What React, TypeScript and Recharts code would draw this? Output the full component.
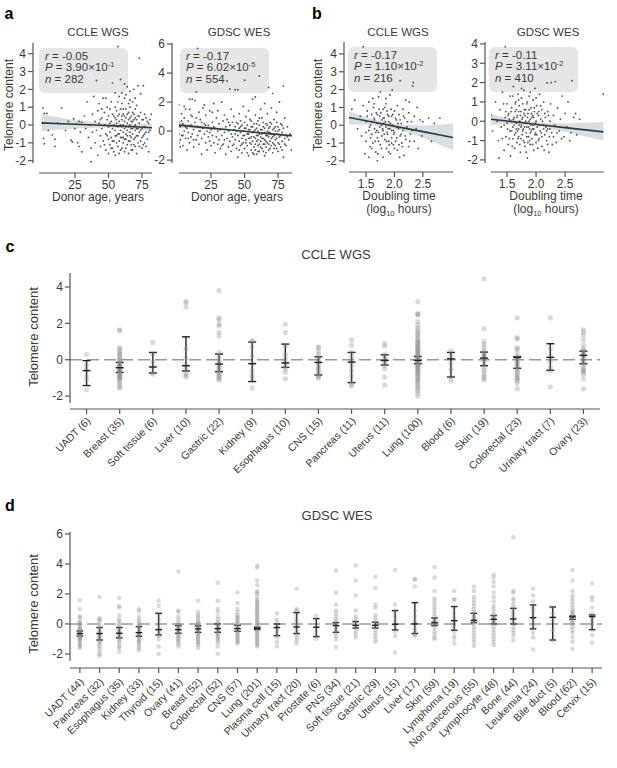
import React from 'react';
import {
  ComposedChart,
  ScatterChart,
  Scatter,
  Line,
  Area,
  XAxis,
  YAxis,
  ReferenceLine,
  ErrorBar,
} from 'recharts';

type Pt = [number, number];

const FONT = '"Liberation Sans", Arial, Helvetica, sans-serif';
const TEXT = '#3a3a3a';
const AXIS = '#555555';

// ---------- Panel a: donor age ----------
const ccleAgePts: Pt[] = [
  [1, 0.95], [2, 0.65], [1, 0.1], [1.5, -0.75], [2, -1.05], [4, 0.65], [5, -0.3], [8, -0.55], [10, -0.8], [12, 0.1],
  [15, 0.95], [18, -0.3], [20, 0.2], [22, -0.85], [23, -0.95], [24, 0.35], [25, -0.2], [26, 0.05], [27, -1.0], [28, 0.2],
  [29, -0.4], [30, 0.15], [30, -1.5], [28, -1.2], [10, -1.2],
  [32, 0.5], [33, -0.2], [34, 1.3], [35, -0.7], [36, 0.0], [37, -1.3], [38, 0.6], [38, -0.4], [39, 1.6], [40, 0.2],
  [40, -1.0], [41, 2.5], [41, -0.3], [42, 0.8], [42, -1.7], [43, 0.1], [43, 1.2], [44, -0.6], [44, -1.2], [45, 0.4],
  [45, -0.2], [46, 1.5], [46, -0.9], [47, 0.0], [47, 0.7], [48, -0.5], [48, -1.4], [49, 0.3], [49, 1.0], [50, -0.1],
  [50, -0.8], [50, 0.5], [37, -2.06],
  [51, 0.9], [51, -0.4], [51, -1.1], [52, 0.2], [52, 1.3], [52, -0.7], [53, 2.35], [53, -0.2], [53, 0.6], [54, -1.5],
  [54, 0.0], [54, -0.9], [55, 0.4], [55, -0.3], [55, 1.0], [55, -1.7], [56, 0.1], [56, -0.6], [56, 0.8], [57, 4.4],
  [57, -0.1], [57, -1.2], [57, 0.5], [58, 0.2], [58, -0.5], [58, 1.6], [58, -0.9], [59, 0.0], [59, -0.3], [59, 0.9],
  [59, -1.4], [60, 0.3], [60, -0.7], [60, -0.1], [60, 1.2], [61, 0.6], [61, -0.4], [61, -1.0], [61, 0.0], [62, 0.2],
  [62, -0.2], [62, -0.8], [62, 1.5], [63, -0.5], [63, 0.4], [63, -1.3], [63, 0.9], [64, 2.15], [64, 0.1], [64, -0.3],
  [64, -0.6], [65, 0.7], [65, -0.1], [65, -1.6], [65, 0.3], [66, -0.4], [66, 1.0], [66, -0.9], [66, 0.0], [67, 0.5],
  [67, -0.2], [67, -1.1], [67, -0.7], [68, 0.2], [68, -0.5], [68, 1.3], [68, -1.4], [69, -0.1], [69, 0.6], [69, -0.8],
  [70, 0.0], [70, -0.3], [70, -1.2], [70, 0.9], [71, 0.3], [71, -0.6], [71, -1.6], [72, 2.2], [72, -0.2], [72, 0.5],
  [72, -1.0], [73, 3.75], [73, -0.4], [73, 0.1], [74, -0.9], [74, 0.7], [75, -0.2], [75, -1.3], [76, 2.2], [76, 0.3],
  [76, -0.6], [77, -0.1], [77, -1.0], [78, 0.4], [78, -0.4], [79, -0.8], [80, 0.1], [80, -1.5], [81, -0.3], [82, 0.6],
  [59, 2.55], [62, 2.3], [66, 1.9], [69, 2.0], [74, 1.75],
  [44, 0.3], [47, -1.1], [49, -0.6], [51, 0.1], [52, -1.3], [53, -0.9], [54, 0.5], [55, -0.6], [56, -1.0], [56, 0.3],
  [57, -0.5], [58, -1.6], [58, 0.6], [59, -0.7], [60, -1.3], [60, 0.5], [61, -0.7], [61, 0.9], [62, -1.5], [62, 0.5],
  [63, -0.1], [63, -0.8], [64, -1.1], [64, 0.6], [65, -0.9], [65, 1.2], [66, -0.6], [66, 0.4], [67, 0.2], [67, -1.4],
  [68, -0.2], [68, 0.7], [69, -1.1], [69, 0.3], [70, -0.7], [70, 0.4], [71, -0.2], [71, 1.1], [72, -0.6], [73, -1.2],
  [73, 0.5], [74, -0.3], [75, 0.3], [75, -0.7], [76, -1.1], [77, 0.6], [77, -0.5], [78, -1.2], [79, 0.2], [80, -0.4],
  [81, 0.3], [57, 1.3], [60, 1.8], [63, 1.7], [66, 1.4], [70, 1.5], [55, 1.8], [48, 1.5], [45, 0.9], [50, -1.6], [53, -1.3],
];
const ccleAgeFitX = [0, 20, 40, 55, 70, 82.5];
const ccleAgeFitY = [0.12, 0.06, 0.0, -0.05, -0.1, -0.15];
const ccleAgeLo = [-0.35, -0.22, -0.15, -0.16, -0.24, -0.33];
const ccleAgeHi = [0.6, 0.34, 0.16, 0.07, 0.05, 0.07];

const gdscAgePts: Pt[] = [
  [1, 1.8], [1, 0.6], [1, -0.2], [2, 0.3], [2, -0.6], [3, 1.2], [3, -0.3], [4, 0.5], [4, -1.0], [5, 0.0],
  [5, 0.9], [6, -0.5], [6, 1.5], [7, 0.2], [7, -1.3], [8, 0.7], [8, -0.1], [9, -0.8], [9, 2.2], [10, 0.4],
  [10, -0.4], [11, 1.0], [11, -0.2], [12, 0.1], [12, -1.1], [13, 2.1], [13, 0.6], [14, -0.6], [14, 2.7], [15, 5.7],
  [15, 0.3], [15, -0.3], [16, 1.3], [16, -0.9], [17, 0.0], [17, 0.8], [18, -0.5], [18, -1.6], [19, 0.2], [19, 1.6],
  [20, -0.2], [20, 0.5], [21, -0.8], [21, 1.1], [22, 0.0], [22, -1.3], [23, 0.4], [23, -0.4], [24, 1.4], [24, -0.7],
  [25, 0.1], [25, -1.0],
  [26, 0.6], [26, -0.3], [27, 1.9], [27, -0.8], [28, 0.2], [28, -1.5], [29, 0.9], [29, -0.4], [30, 0.0], [30, 1.4],
  [31, -0.6], [31, 0.5], [32, -1.2], [32, 0.1], [33, 2.0], [33, -0.3], [34, 0.7], [34, -0.9], [35, -0.1], [35, 1.1],
  [36, -1.6], [36, 0.3], [37, 3.45], [37, -0.5], [37, 0.8], [38, 0.0], [38, -1.1], [39, 2.9], [39, 0.4], [39, -0.7],
  [40, 1.5], [40, -0.2], [40, -1.4], [41, 0.6], [41, -0.4], [42, 0.1], [42, -0.9], [42, 1.0], [43, 2.85], [43, -0.6],
  [43, 0.3], [44, -1.2], [44, 0.0], [45, 2.85], [45, 0.5], [45, -0.3], [45, -1.8],
  [46, 1.2], [46, -0.7], [46, 0.2], [47, -0.1], [47, -1.0], [47, 0.7], [48, 0.4], [48, -0.5], [48, -1.5], [49, 1.7],
  [49, 0.0], [49, -0.8], [50, 3.5], [50, -0.3], [50, 0.6], [50, -1.2], [51, 0.2], [51, -0.6], [51, 1.0], [52, -0.2],
  [52, -1.0], [52, 0.4], [53, 1.4], [53, -0.5], [53, -1.7], [54, 0.1], [54, -0.8], [54, 0.8], [55, -0.4], [55, -1.3],
  [55, 0.3], [56, 2.2], [56, -0.1], [56, -0.7], [57, 0.5], [57, -1.1], [57, 0.0], [58, 2.35], [58, -0.5], [58, -0.9],
  [58, 1.1], [59, 0.2], [59, -0.3], [59, -1.6], [60, 0.7], [60, -0.6], [60, -1.0], [60, 0.0], [61, 3.8], [61, -0.2],
  [61, -1.4], [61, 0.4], [62, 1.5], [62, -0.7], [62, -0.4], [63, 0.1], [63, -1.2], [63, 0.9], [64, -0.5], [64, -0.9],
  [64, 0.3], [65, 1.9], [65, -0.1], [65, -1.7], [65, -0.6], [66, 0.5], [66, -0.3], [66, -1.1], [67, 0.0], [67, -0.8],
  [67, 1.2], [68, 3.0], [68, -0.4], [68, -1.3], [68, 0.2], [69, 0.6], [69, -0.7], [69, -0.1], [70, 1.6], [70, -1.0],
  [70, -0.5], [71, 2.6], [71, 0.1], [71, -1.5], [72, -0.3], [72, 0.8], [72, -0.9], [73, 0.3], [73, -0.6], [74, 1.3],
  [74, -1.2], [74, -0.2], [75, 0.0], [75, -0.8], [76, 2.0], [76, -0.4], [77, 0.5], [77, -1.1], [78, -0.1], [78, -0.7],
  [79, 3.1], [79, 0.2], [79, -1.8], [80, -0.5], [80, 0.9], [81, -0.3], [81, -1.0], [82, 0.3], [83, -0.6], [84, -0.2],
  [85, -1.3],
  [41, -1.0], [43, -0.2], [44, 0.6], [46, -1.3], [47, 0.3], [48, -0.9], [49, -0.3], [50, 0.2], [51, -0.8], [52, -1.5],
  [53, 0.1], [53, -0.2], [54, -0.5], [55, -0.9], [55, 0.7], [56, -1.5], [56, 0.3], [57, -0.4], [57, -1.6], [58, 0.1],
  [58, -1.3], [59, -0.7], [59, 0.5], [60, -0.3], [60, -1.4], [61, -0.9], [61, 0.9], [62, -1.1], [62, 0.1], [63, -0.5],
  [63, -0.2], [64, -1.4], [64, 0.6], [65, -0.9], [65, 0.2], [66, -0.7], [66, -1.5], [67, -0.3], [67, 0.4], [68, -0.9],
  [68, -0.1], [69, -1.2], [69, 0.3], [70, -0.2], [70, 0.5], [71, -0.8], [71, -0.4], [72, -1.2], [72, 0.2], [73, -1.0],
  [73, 0.0], [74, -0.5], [74, 0.6], [75, -1.4], [75, 0.3], [76, -0.9], [76, 0.1], [77, -0.3], [78, -1.3], [78, 0.4],
  [80, -0.9], [82, -0.4], [35, -0.6], [38, 0.6], [33, -1.0], [30, -0.9], [27, 0.3], [24, -0.1], [21, 0.4], [18, 0.6],
  [16, 0.0], [14, 0.9], [12, -0.6], [10, 1.1], [8, -0.5], [6, 0.3], [4, -0.3], [3, 0.7], [2, -1.1], [1, -0.8],
  [11, 2.2], [9, 1.5], [20, 1.8], [5, 1.7], [26, 1.3],
];
const gdscAgeFitX = [1.1, 20, 40, 55, 70, 85.4];
const gdscAgeFitY = [0.41, 0.24, 0.07, -0.06, -0.19, -0.32];
const gdscAgeLo = [0.21, 0.12, 0.0, -0.12, -0.27, -0.45];
const gdscAgeHi = [0.61, 0.36, 0.14, 0.0, -0.11, -0.19];

// ---------- Panel b: doubling time ----------
const ccleDblPts: Pt[] = [
  [1.25, 0.9], [1.3, 1.4], [1.35, -0.2], [1.4, 0.5], [1.42, -0.6], [1.45, 4.4], [1.45, 1.1], [1.48, -1.6], [1.5, 0.2], [1.5, -0.9],
  [1.52, 0.8], [1.55, -0.3], [1.55, 1.3], [1.57, -1.2], [1.58, 0.0], [1.6, 0.6], [1.6, -0.5], [1.62, -1.0], [1.63, 1.0], [1.65, 0.3],
  [1.65, -0.2], [1.67, -1.5], [1.68, 0.7], [1.7, -0.7], [1.7, 0.1], [1.72, 1.6], [1.72, -0.4], [1.74, 0.5], [1.75, 1.87], [1.75, -1.1],
  [1.77, 0.0], [1.78, -0.6], [1.8, 0.9], [1.8, -0.3], [1.8, -1.8], [1.82, 0.4], [1.83, -0.8], [1.85, 1.2], [1.85, -0.1], [1.86, -1.3],
  [1.88, 0.6], [1.88, -0.5], [1.9, 0.2], [1.9, -0.9], [1.92, 1.7], [1.92, -0.2], [1.93, -1.6], [1.95, 0.5], [1.95, -0.7], [1.96, 1.98],
  [1.97, 0.0], [1.98, -1.1], [2.0, 0.8], [2.0, -0.4], [2.02, -0.9], [2.03, 0.3], [2.05, -1.4], [2.05, 1.1], [2.07, -0.2], [2.08, 0.6],
  [2.1, 2.5], [2.1, -0.6], [2.12, 0.1], [2.13, -1.0], [2.15, 0.9], [2.15, -0.3], [2.17, -1.7], [2.18, 0.4], [2.2, -0.8], [2.2, 1.4],
  [2.22, -0.1], [2.25, 0.7], [2.25, -1.2], [2.28, -0.5], [2.3, 0.2], [2.32, 2.2], [2.33, 2.4], [2.35, -0.9], [2.35, 0.5], [2.38, -0.2],
  [2.4, 1.0], [2.42, -1.3], [2.45, 0.3], [2.48, -0.6], [2.5, 0.2], [2.55, -0.4], [2.6, 0.4], [2.65, -0.9], [2.7, 0.1], [2.8, 0.4],
  [1.55, -1.8], [1.62, 1.5], [1.7, -2.0], [1.78, 0.3], [1.83, 1.0], [1.87, -0.4], [1.9, -1.5], [1.94, 0.9], [1.99, -0.5], [2.04, -0.1],
  [2.09, -1.8], [1.66, -0.9], [1.73, 0.9], [1.6, 0.2], [1.69, -0.3], [1.81, 0.1], [1.95, -0.3], [1.5, -0.4], [2.26, 1.3],
  [1.58, -0.7], [1.6, -1.3], [1.64, 0.4], [1.67, -0.4], [1.7, 0.6], [1.72, -0.9], [1.74, -0.1], [1.76, 0.7], [1.77, -1.3], [1.79, -0.2],
  [1.8, 0.4], [1.82, -0.5], [1.84, 0.2], [1.86, -0.9], [1.87, 0.8], [1.89, -0.2], [1.9, 0.5], [1.91, -1.1], [1.93, 0.1], [1.95, -1.0],
  [1.97, 0.6], [1.98, -0.3], [2.0, -1.3], [2.02, 0.4], [2.04, -0.7], [2.06, 0.1], [2.08, -1.1], [2.1, 0.3], [2.12, -0.5], [2.14, -1.2],
  [2.16, 0.5], [2.19, -0.6], [2.23, 0.2], [2.27, -0.9], [2.31, -0.3], [1.52, 0.5], [1.56, -0.1], [1.64, 1.2], [1.71, -1.6], [1.85, 1.5],
];
const ccleDblFitX = [1.2, 1.5, 1.8, 2.1, 2.5, 3.03];
const ccleDblFitY = [0.43, 0.25, 0.07, -0.12, -0.36, -0.69];
const ccleDblLo = [0.02, 0.04, -0.06, -0.28, -0.7, -1.4];
const ccleDblHi = [0.78, 0.45, 0.2, 0.04, -0.02, 0.08];

const gdscDblPts: Pt[] = [
  [1.22, 0.3], [1.25, -0.5], [1.3, 1.0], [1.33, 0.0], [1.35, -1.0], [1.38, 0.6], [1.4, -0.3], [1.42, 1.5], [1.45, -1.5], [1.47, 3.85],
  [1.47, 0.2], [1.48, -0.8], [1.5, 0.9], [1.5, -0.1], [1.52, -1.2], [1.53, 0.4], [1.55, -0.5], [1.55, 1.3], [1.56, -1.8], [1.57, 0.0],
  [1.58, 0.7], [1.6, -0.3], [1.6, -0.9], [1.61, 1.8], [1.62, 0.2], [1.63, -1.4], [1.64, 0.5], [1.65, -0.6], [1.65, 1.0], [1.66, -0.1],
  [1.67, -1.1], [1.68, 0.3], [1.69, 1.4], [1.7, -0.4], [1.7, -0.8], [1.71, 0.8], [1.72, 0.0], [1.73, -1.6], [1.74, 0.5], [1.75, -0.2],
  [1.75, 1.2], [1.76, -0.7], [1.77, 0.2], [1.78, -1.0], [1.79, 1.6], [1.8, -0.3], [1.8, 0.6], [1.81, -1.3], [1.82, 0.0], [1.83, -0.6],
  [1.84, 0.9], [1.85, -0.1], [1.85, -1.9], [1.86, 0.4], [1.87, -0.8], [1.88, 1.3], [1.89, -0.4], [1.9, 0.1], [1.9, -1.2], [1.91, 0.7],
  [1.92, -0.5], [1.93, -0.9], [1.94, 0.3], [1.95, 1.1], [1.95, -0.2], [1.96, -1.5], [1.97, 0.5], [1.98, 1.7], [1.98, -0.7], [2.0, 0.0],
  [2.0, -1.1], [2.01, 0.8], [2.02, -0.3], [2.04, 0.3], [2.05, -0.9], [2.06, 1.4], [2.07, -0.5], [2.08, 0.1], [2.1, -1.3], [2.1, 0.6],
  [2.12, -0.2], [2.13, 1.0], [2.15, -0.7], [2.16, 0.2], [2.18, -1.0], [2.19, 1.98], [2.2, -0.4], [2.2, 0.5], [2.22, -1.6], [2.24, 0.0],
  [2.25, 0.9], [2.26, 2.0], [2.27, -0.6], [2.3, 0.3], [2.32, -0.2], [2.33, 2.05], [2.35, -1.1], [2.37, 0.7], [2.4, -0.5], [2.42, 0.1],
  [2.45, 1.3], [2.48, -0.8], [2.5, 0.4], [2.53, -0.3], [2.55, 1.0], [2.6, -0.6], [2.62, 2.1], [2.65, 0.2], [2.68, 0.4], [2.7, -0.7],
  [2.75, 0.1], [3.16, 1.4], [1.36, -1.9], [1.44, 0.9], [1.51, -0.4], [1.54, 0.1], [1.59, -1.3], [1.62, -0.2], [1.66, 0.6], [1.68, -0.5],
  [1.72, -1.2], [1.74, -0.3], [1.77, 0.9], [1.78, -0.4], [1.81, 0.3], [1.83, -1.6], [1.84, -0.3], [1.86, -1.1], [1.88, 0.0], [1.9, -0.6],
  [1.92, 0.4], [1.94, -0.4], [1.96, 0.2], [1.99, -0.6], [2.03, -1.4], [2.05, 0.5], [2.09, -0.6], [2.11, 0.0], [2.14, -1.5], [2.17, -0.3],
  [2.21, 0.3], [2.23, -0.8], [2.28, -1.2], [2.36, -0.6], [2.44, -0.9], [2.58, -1.0],
  [1.52, 0.3], [1.54, -0.9], [1.57, 0.5], [1.58, -0.5], [1.61, 0.1], [1.63, -0.7], [1.64, 0.9], [1.66, -0.4], [1.67, 0.2], [1.69, -0.9],
  [1.7, 0.5], [1.71, -0.2], [1.73, 0.3], [1.74, -0.9], [1.76, 0.1], [1.77, -0.5], [1.79, 0.4], [1.8, -1.1], [1.81, -0.1], [1.82, 0.6],
  [1.84, -0.8], [1.85, 0.2], [1.87, -0.3], [1.88, 0.6], [1.89, -1.0], [1.91, -0.2], [1.93, 0.2], [1.94, -1.2], [1.96, -0.4], [1.97, 0.7],
  [1.99, -0.1], [2.01, -0.7], [2.02, 0.4], [2.04, -1.0], [2.06, -0.2], [2.08, 0.8], [2.1, -0.8], [2.13, -0.4], [2.15, 0.4], [2.18, -0.5],
  [2.2, -1.2], [2.24, -0.4], [2.3, -0.8], [1.45, -0.2], [1.48, 0.5], [1.42, -0.9], [1.6, 1.3], [1.7, 1.1], [1.9, 1.5], [2.0, 1.2],
  [1.75, 1.7], [1.85, 1.0],
];
const gdscDblFitX = [1.224, 1.5, 1.8, 2.1, 2.5, 3.16];
const gdscDblFitY = [0.1, 0.01, -0.09, -0.19, -0.33, -0.55];
const gdscDblLo = [-0.2, -0.14, -0.18, -0.31, -0.55, -1.0];
const gdscDblHi = [0.4, 0.16, 0.0, -0.07, -0.11, -0.04];

// ---------- Panel c: CCLE WGS by tissue ----------
const ccleCats = ['UADT', 'Breast', 'Soft tissue', 'Liver', 'Gastric', 'Kidney', 'Esophagus', 'CNS', 'Pancreas', 'Uterus', 'Lung', 'Blood', 'Skin', 'Colorectal', 'Urinary tract', 'Ovary'];
const ccleN = [6, 35, 6, 10, 22, 9, 10, 15, 11, 11, 100, 6, 19, 23, 7, 23];
const ccleVals: number[][] = [
  [0.3, -0.3, -0.55, -0.9, -1.1, -1.65],
  [1.65, 1.6, 0.65, 0.6, 0.45, 0.35, 0.3, 0.18, 0.1, 0.02, -0.05, -0.12, -0.2, -0.22, -0.3, -0.35, -0.4, -0.42, -0.5, -0.55, -0.6, -0.62, -0.7, -0.75, -0.8, -0.85, -0.9, -0.95, -1.0, -1.05, -1.1, -1.25, -1.35, -1.5, -1.55],
  [0.95, 0.3, -0.1, -0.4, -0.7, -0.8],
  [3.2, 3.15, 2.9, 0.6, 0.1, -0.3, -0.5, -0.75, -0.85, -0.95],
  [3.8, 2.3, 2.2, 1.95, 1.85, 1.5, 1.3, 0.4, 0.25, 0.05, -0.1, -0.2, -0.35, -0.45, -0.55, -0.65, -0.7, -0.8, -0.9, -0.95, -1.05, -1.1],
  [1.05, 1.0, 0.7, 0.2, -0.2, -0.6, -0.85, -1.0, -1.55],
  [1.95, 1.5, 0.75, 0.3, 0.05, -0.15, -0.35, -0.5, -0.7, -1.05],
  [0.7, 0.65, 0.45, 0.3, 0.15, 0.0, -0.1, -0.25, -0.4, -0.5, -0.6, -0.75, -0.85, -0.95, -1.0],
  [1.1, 0.8, 0.4, 0.15, -0.1, -0.3, -0.6, -0.9, -1.2, -1.35, -1.45],
  [0.9, 0.75, 0.3, 0.15, 0.05, -0.05, -0.15, -0.3, -0.5, -0.95, -1.4],
  [3.2, 2.55, 2.5, 2.45, 2.1, 1.9, 1.75, 1.6, 1.5, 1.4, 1.3, 1.2, 1.1, 1.0, 0.95, 0.9, 0.8, 0.75, 0.7, 0.6, 0.55, 0.5, 0.45, 0.4, 0.3, 0.25, 0.2, 0.15, 0.1, 0.05, 0.0, -0.05, -0.1, -0.15, -0.2, -0.25, -0.3, -0.35, -0.4, -0.45, -0.5, -0.55, -0.6, -0.7, -0.75, -0.8, -0.9, -1.0, -1.05, -1.1, -1.2, -1.3, -1.4, -1.5, -1.6, -1.7, -1.85, -2.0],
  [0.5, 0.25, -0.2, -0.55, -0.95, -1.15],
  [4.45, 1.7, 1.0, 0.85, 0.7, 0.5, 0.4, 0.3, 0.2, 0.1, 0.0, -0.1, -0.3, -0.45, -0.6, -0.75, -0.9, -1.0, -1.1],
  [2.3, 1.2, 1.15, 0.65, 0.6, 0.4, 0.2, 0.1, 0.0, -0.1, -0.2, -0.3, -0.4, -0.5, -0.6, -0.7, -0.8, -0.9, -1.0, -1.05, -1.15, -1.3, -1.6],
  [2.3, 0.6, 0.2, -0.1, -0.4, -0.6, -1.5],
  [1.65, 1.5, 1.35, 1.1, 0.8, 0.6, 0.5, 0.45, 0.35, 0.3, 0.2, 0.1, 0.0, -0.1, -0.2, -0.3, -0.45, -0.55, -0.6, -0.7, -0.8, -1.05, -1.6],
];
const ccleMean = [-0.6, -0.44, -0.4, -0.33, -0.24, -0.22, -0.18, -0.15, -0.13, -0.04, -0.04, 0.05, 0.09, 0.12, 0.13, 0.24];
const ccleLo = [-1.42, -0.7, -0.73, -0.62, -0.66, -1.2, -0.42, -0.84, -1.26, -0.29, -0.22, -0.95, -0.33, -0.47, -0.58, -0.22];
const ccleHi = [-0.05, -0.15, 0.4, 1.26, 0.31, 0.97, 0.86, 0.16, 0.4, 0.27, 0.18, 0.4, 0.42, 0.17, 0.88, 0.47];

// ---------- Panel d: GDSC WES by tissue ----------
const gdscCats = ['UADT', 'Pancreas', 'Esophagus', 'Kidney', 'Thyroid', 'Ovary', 'Breast', 'Colorectal', 'CNS', 'Lung', 'Plasma cell', 'Urinary tract', 'Prostate', 'PNS', 'Soft tissue', 'Gastric', 'Uterus', 'Liver', 'Skin', 'Lymphoma', 'Non cancerous', 'Lymphocyte', 'Bone', 'Leukemia', 'Bile duct', 'Blood', 'Cervix'];
const gdscN = [44, 32, 35, 33, 15, 41, 52, 52, 57, 201, 15, 20, 6, 34, 21, 29, 15, 17, 59, 19, 55, 48, 44, 24, 5, 62, 15];
const gdscVals: number[][] = [
  [1.6, 1.0, 0.5, 0.45, 0.2, 0.1, 0.0, -0.1, -0.2, -0.3, -0.35, -0.4, -0.5, -0.55, -0.6, -0.65, -0.7, -0.75, -0.8, -0.85, -0.9, -0.95, -1.0, -1.1, -1.2, -1.3, -1.4, -1.5, -1.6],
  [1.8, 0.4, 0.3, 0.2, 0.0, -0.2, -0.3, -0.45, -0.6, -0.7, -0.8, -0.9, -1.0, -1.1, -1.2, -1.3, -1.45, -1.6, -1.8, -2.0, -2.1],
  [1.75, 1.2, 1.1, 0.6, 0.35, 0.2, 0.05, -0.1, -0.25, -0.4, -0.5, -0.6, -0.7, -0.8, -0.9, -1.0, -1.15, -1.3, -1.5, -1.6, -1.85],
  [1.0, 0.85, 0.5, 0.3, 0.15, 0.0, -0.1, -0.25, -0.4, -0.5, -0.6, -0.7, -0.8, -0.9, -1.0, -1.1, -1.2, -1.3, -1.45, -1.6, -1.75],
  [1.55, 1.2, 0.6, 0.3, 0.0, -0.3, -0.5, -0.7, -0.8, -1.0, -1.5, -2.0],
  [3.5, 0.9, 0.8, 0.5, 0.3, 0.1, 0.0, -0.1, -0.2, -0.3, -0.4, -0.5, -0.6, -0.7, -0.8, -0.9, -1.0, -1.1, -1.2, -1.35, -1.5],
  [1.55, 0.8, 0.6, 0.5, 0.35, 0.2, 0.1, 0.0, -0.1, -0.2, -0.3, -0.4, -0.5, -0.6, -0.7, -0.8, -0.9, -1.0, -1.1, -1.2, -1.3, -1.4, -1.6],
  [2.75, 1.55, 1.0, 0.8, 0.5, 0.3, 0.15, 0.0, -0.1, -0.2, -0.3, -0.4, -0.5, -0.6, -0.7, -0.8, -0.9, -1.0, -1.1, -1.25, -1.5, -2.0],
  [2.1, 1.4, 1.0, 0.8, 0.6, 0.5, 0.4, 0.3, 0.2, 0.1, 0.0, -0.1, -0.2, -0.3, -0.4, -0.5, -0.6, -0.7, -0.8, -0.9, -1.0, -1.1, -1.2, -1.3],
  [3.9, 3.75, 2.9, 2.6, 2.2, 2.1, 2.0, 1.8, 1.6, 1.5, 1.4, 1.3, 1.2, 1.1, 1.0, 0.9, 0.8, 0.7, 0.6, 0.5, 0.4, 0.3, 0.2, 0.1, 0.0, -0.1, -0.2, -0.3, -0.4, -0.5, -0.6, -0.7, -0.8, -0.9, -1.0, -1.1, -1.2, -1.3, -1.4, -1.5],
  [0.7, 0.3, 0.1, -0.1, -0.3, -0.5, -0.7, -0.9, -1.2, -1.5],
  [2.35, 1.0, 0.9, 0.6, 0.3, 0.1, -0.1, -0.3, -0.5, -0.7, -0.9, -1.1, -1.3],
  [0.55, 0.3, -0.2, -0.5, -0.8, -1.0],
  [3.56, 2.1, 1.3, 0.9, 0.7, 0.5, 0.3, 0.15, 0.0, -0.15, -0.3, -0.45, -0.6, -0.8, -1.0, -1.56],
  [3.9, 2.9, 1.9, 0.9, 0.5, 0.3, 0.1, -0.1, -0.3, -0.5, -0.7, -0.9],
  [3.15, 2.4, 1.3, 1.1, 0.6, 0.4, 0.2, 0.0, -0.2, -0.4, -0.6, -0.8, -1.0, -1.2],
  [3.6, 1.3, 0.9, 0.5, 0.2, 0.0, -0.2, -0.5, -0.8, -1.9],
  [3.0, 2.95, 2.5, 0.9, 0.5, 0.2, 0.0, -0.3, -0.5, -0.7, -0.8],
  [3.8, 3.1, 2.2, 1.7, 1.5, 1.3, 1.1, 0.9, 0.7, 0.5, 0.3, 0.2, 0.1, 0.0, -0.1, -0.3, -0.5, -0.7, -0.9, -1.0],
  [2.2, 1.65, 1.6, 1.0, 0.7, 0.4, 0.2, 0.0, -0.2, -0.5, -0.8, -1.0, -1.3],
  [2.5, 2.2, 1.8, 1.6, 1.4, 1.2, 1.0, 0.8, 0.6, 0.5, 0.4, 0.3, 0.2, 0.1, 0.0, -0.2, -0.4, -0.6, -0.8, -1.0, -1.2, -1.45],
  [3.3, 3.1, 2.8, 2.5, 2.1, 1.8, 1.5, 1.2, 1.0, 0.8, 0.6, 0.5, 0.4, 0.3, 0.2, 0.1, 0.0, -0.2, -0.4, -0.6, -0.8, -1.0, -1.2, -1.4],
  [5.8, 2.2, 2.1, 1.7, 1.55, 1.3, 1.1, 0.9, 0.7, 0.5, 0.3, 0.1, 0.0, -0.2, -0.4, -0.6, -0.8, -1.1],
  [2.35, 1.9, 1.5, 1.2, 1.0, 0.8, 0.5, 0.3, 0.0, -0.3, -0.6, -0.9, -1.7],
  [1.1, 0.7, 0.3, -0.4, -1.1],
  [3.6, 2.9, 2.2, 1.9, 1.7, 1.5, 1.3, 1.1, 0.9, 0.8, 0.7, 0.6, 0.5, 0.4, 0.3, 0.2, 0.1, 0.0, -0.2, -0.4, -0.6, -0.9, -1.2, -1.65],
  [2.7, 1.8, 1.6, 1.1, 0.7, 0.5, 0.3, 0.1, -0.1, -0.4, -0.75, -1.25],
];
const gdscMean = [-0.64, -0.64, -0.62, -0.58, -0.38, -0.38, -0.33, -0.31, -0.31, -0.29, -0.24, -0.2, -0.22, -0.11, -0.09, -0.09, -0.02, 0.0, 0.09, 0.22, 0.24, 0.31, 0.33, 0.42, 0.44, 0.47, 0.49];
const gdscLo = [-0.8, -1.07, -0.93, -0.82, -0.73, -0.62, -0.56, -0.56, -0.49, -0.38, -0.78, -0.64, -0.84, -0.56, -0.27, -0.27, -0.4, -0.64, -0.11, -0.42, 0.09, 0.0, 0.0, -0.33, -1.07, 0.31, -0.38];
const gdscHi = [-0.47, -0.24, -0.24, -0.18, 0.71, -0.11, -0.13, 0.0, -0.09, -0.22, 0.0, 0.76, 0.36, 0.09, 0.16, 0.11, 0.89, 1.42, 0.4, 1.16, 0.71, 0.56, 1.04, 1.27, 1.13, 0.53, 0.6];

// ---------- helpers ----------
const SmallDot = (p: any) => <circle cx={p.cx} cy={p.cy} r={0.95} fill="#3a3a3a" fillOpacity={0.85} />;

type Frame = {
  chartLeft: number; chartTop: number; w: number; h: number;
  spineX: number; plotRight: number; plotTop: number; axisY: number;
  padL: number; padB: number; yW: number; xH: number;
};

function frameMargin(f: Frame) {
  return {
    top: f.plotTop - f.chartTop,
    right: f.chartLeft + f.w - f.plotRight,
    bottom: f.chartTop + f.h - f.axisY - f.xH,
    left: f.spineX - f.chartLeft - f.yW,
  };
}

function ScatterPanel(props: {
  pts: Pt[]; fx: number[]; fy: number[]; lo: number[]; hi: number[];
  xDomain: [number, number]; yDomain: [number, number]; xTicks: number[]; yTicks: number[];
  xDigits: number; f: Frame;
}) {
  const { pts, fx, fy, lo, hi, xDomain, yDomain, xTicks, yTicks, xDigits, f } = props;
  const points = pts.map(([x, y]) => ({ x, y }));
  const fit = fx.map((x, i) => ({ x, fit: fy[i], band: [lo[i], hi[i]] }));
  const ySpine = f.axisY - f.padB - f.plotTop;
  return (
    <div style={{ position: 'absolute', left: f.chartLeft, top: f.chartTop }}>
      <ComposedChart width={f.w} height={f.h} margin={frameMargin(f)}>
        <XAxis
          type="number" dataKey="x" domain={xDomain} ticks={xTicks} interval={0} allowDataOverflow
          padding={{ left: f.padL, right: 0 }} height={f.xH} tickSize={5}
          tickFormatter={(v: number) => v.toFixed(xDigits)}
          axisLine={{ stroke: AXIS, strokeWidth: 1.2, strokeDasharray: `0 ${f.padL} 2000` }}
          tickLine={{ stroke: AXIS, strokeWidth: 1.2 }}
          tick={{ fontSize: 12, fill: TEXT }}
        />
        <YAxis
          type="number" dataKey="y" domain={yDomain} ticks={yTicks} interval={0} allowDataOverflow
          padding={{ top: 0, bottom: f.padB }} width={f.yW} tickSize={5}
          axisLine={{ stroke: AXIS, strokeWidth: 1.2, strokeDasharray: `${ySpine} 2000` }}
          tickLine={{ stroke: AXIS, strokeWidth: 1.2 }}
          tick={{ fontSize: 12, fill: TEXT }}
        />
        <Area data={fit} dataKey="band" type="linear" stroke="none" fill="#c5cdd2" fillOpacity={0.65} isAnimationActive={false} />
        <Scatter data={points} dataKey="y" shape={SmallDot} isAnimationActive={false} />
        <Line data={fit} dataKey="fit" type="linear" stroke="#2c3a42" strokeWidth={1.6} dot={false} activeDot={false} isAnimationActive={false} />
      </ComposedChart>
    </div>
  );
}

function StripPanel(props: {
  cats: string[]; counts: number[]; vals: number[][]; mean: number[]; lo: number[]; hi: number[];
  yDomain: [number, number]; yTicks: number[]; f: Frame; dotR: number; cap: number; labelDy: number;
}) {
  const { cats, counts, vals, mean, lo, hi, yDomain, yTicks, f, dotR, cap, labelDy } = props;
  const labels = cats.map((c, i) => `${c} (${counts[i]})`);
  const idx = cats.map((_, i) => i);
  const points = vals.flatMap((arr, i) => arr.map((v) => ({ x: i, y: v })));
  const means = mean.map((m, i) => ({ x: i, y: m, err: [m - lo[i], hi[i] - m] }));
  const ySpine = f.axisY - f.padB - f.plotTop;
  const GrayDot = (p: any) => <circle cx={p.cx} cy={p.cy} r={dotR} fill="#8c8c8c" fillOpacity={0.32} />;
  const MeanTick = (p: any) => (
    <line x1={p.cx - cap} x2={p.cx + cap} y1={p.cy} y2={p.cy} stroke="#222" strokeWidth={1.4} />
  );
  const CatTick = (p: any) => (
    <g transform={`translate(${p.x + 2},${p.y + labelDy})`}>
      <text x={0} y={0} dy="0.35em" textAnchor="end" transform="rotate(-45)" fontSize={10.5} fill={TEXT} stroke="none">
        {labels[p.payload.value]}
      </text>
    </g>
  );
  return (
    <div style={{ position: 'absolute', left: f.chartLeft, top: f.chartTop }}>
      <ScatterChart width={f.w} height={f.h} margin={frameMargin(f)}>
        <XAxis
          type="number" dataKey="x" domain={[-0.5, cats.length - 0.5]} ticks={idx} interval={0} allowDataOverflow
          height={f.xH} tickSize={5}
          axisLine={{ stroke: AXIS, strokeWidth: 1.2 }}
          tickLine={{ stroke: AXIS, strokeWidth: 1.2 }}
          tick={CatTick}
        />
        <YAxis
          type="number" dataKey="y" domain={yDomain} ticks={yTicks} interval={0} allowDataOverflow
          padding={{ top: 0, bottom: f.padB }} width={f.yW} tickSize={5}
          axisLine={{ stroke: AXIS, strokeWidth: 1.2, strokeDasharray: `${ySpine} 2000` }}
          tickLine={{ stroke: AXIS, strokeWidth: 1.2 }}
          tick={{ fontSize: 12, fill: TEXT }}
        />
        <ReferenceLine y={0} stroke="#9a9a9a" strokeWidth={1.6} strokeDasharray="12 5" />
        <Scatter data={points} dataKey="y" shape={GrayDot} isAnimationActive={false} />
        <Scatter data={means} dataKey="y" shape={MeanTick} isAnimationActive={false}>
          <ErrorBar dataKey="err" direction="y" width={cap} stroke="#222" strokeWidth={1.4} isAnimationActive={false} />
        </Scatter>
      </ScatterChart>
    </div>
  );
}

function Txt(props: { x: number; y: number; size: number; bold?: boolean; rotate?: boolean; children: React.ReactNode }) {
  const { x, y, size, bold, rotate, children } = props;
  return (
    <div
      style={{
        position: 'absolute', left: x, top: y, fontSize: size, fontWeight: bold ? 700 : 400,
        color: bold ? '#000' : TEXT, whiteSpace: 'nowrap', lineHeight: 1,
        transform: `translate(-50%, -50%)${rotate ? ' rotate(-90deg)' : ''}`,
      }}
    >
      {children}
    </div>
  );
}

function TwoLine(props: { x: number; y: number }) {
  return (
    <div
      style={{
        position: 'absolute', left: props.x, top: props.y, fontSize: 12, color: TEXT, whiteSpace: 'nowrap',
        lineHeight: '13px', textAlign: 'center', transform: 'translateX(-50%)',
      }}
    >
      <div>Doubling time</div>
      <div>
        (log<span style={{ fontSize: 7.5, lineHeight: 0, position: 'relative', top: 3 }}>10</span> hours)
      </div>
    </div>
  );
}

function StatBox(props: { left: number; top: number; r: string; p: string; exp: string; n: number }) {
  const { left, top, r, p, exp, n } = props;
  return (
    <div
      style={{
        position: 'absolute', left, top, width: 89, height: 45, background: '#e6e6e6', borderRadius: 6,
        fontSize: 11.5, lineHeight: '11.3px', color: TEXT, padding: '3px 0 0 6px', boxSizing: 'border-box', whiteSpace: 'nowrap',
      }}
    >
      <div><i>r</i> = {r}</div>
      <div>
        <i>P</i> = {p}×10<span style={{ fontSize: 7.5, lineHeight: 0, position: 'relative', top: -4 }}>{exp}</span>
      </div>
      <div><i>n</i> = {n}</div>
    </div>
  );
}

const frames: Record<string, Frame> = {
  aL: { chartLeft: 0, chartTop: 0, w: 160, h: 195, spineX: 33, plotRight: 152, plotTop: 43, axisY: 173, padL: 6, padB: 10, yW: 28, xH: 22 },
  aR: { chartLeft: 140, chartTop: 0, w: 160, h: 195, spineX: 172, plotRight: 292, plotTop: 43, axisY: 173, padL: 7, padB: 10, yW: 28, xH: 22 },
  bL: { chartLeft: 305, chartTop: 0, w: 160, h: 195, spineX: 344, plotRight: 453, plotTop: 42, axisY: 172, padL: 5, padB: 9, yW: 28, xH: 22 },
  bR: { chartLeft: 452, chartTop: 0, w: 160, h: 195, spineX: 485, plotRight: 604, plotTop: 42, axisY: 172, padL: 6, padB: 9, yW: 28, xH: 22 },
  c: { chartLeft: 0, chartTop: 240, w: 617, h: 240, spineX: 70, plotRight: 600, plotTop: 273, axisY: 409, padL: 0, padB: 6, yW: 45, xH: 65 },
  d: { chartLeft: 0, chartTop: 500, w: 617, h: 268, spineX: 70, plotRight: 602, plotTop: 532, axisY: 668, padL: 0, padB: 7, yW: 45, xH: 95 },
};

export default function App() {
  return (
    <div style={{ position: 'absolute', left: 0, top: 0, width: 617, height: 768, background: '#fff', fontFamily: FONT, overflow: 'hidden' }}>
      {/* panel letters */}
      <Txt x={9} y={14} size={16} bold>a</Txt>
      <Txt x={317} y={14} size={16} bold>b</Txt>
      <Txt x={10} y={247} size={16} bold>c</Txt>
      <Txt x={10} y={506} size={16} bold>d</Txt>

      {/* panel a */}
      <Txt x={98} y={33} size={11.5}>CCLE WGS</Txt>
      <Txt x={239} y={33} size={11.5}>GDSC WES</Txt>
      <Txt x={9} y={105} size={12} rotate>Telomere content</Txt>
      <Txt x={98} y={197} size={12}>Donor age, years</Txt>
      <Txt x={237} y={197} size={12}>Donor age, years</Txt>
      <StatBox left={39} top={48} r="-0.05" p="3.90" exp="-1" n={282} />
      <StatBox left={180} top={48} r="-0.17" p="6.02" exp="-5" n={554} />
      <ScatterPanel pts={ccleAgePts} fx={ccleAgeFitX} fy={ccleAgeFitY} lo={ccleAgeLo} hi={ccleAgeHi}
        xDomain={[-1.9, 82.5]} yDomain={[-2.13, 4.6]} xTicks={[25, 50, 75]} yTicks={[-2, -1, 0, 1, 2, 3, 4]} xDigits={0} f={frames.aL} />
      <ScatterPanel pts={gdscAgePts} fx={gdscAgeFitX} fy={gdscAgeFitY} lo={gdscAgeLo} hi={gdscAgeHi}
        xDomain={[1.1, 85.4]} yDomain={[-2.2, 6.07]} xTicks={[25, 50, 75]} yTicks={[-2, 0, 2, 4, 6]} xDigits={0} f={frames.aR} />

      {/* panel b */}
      <Txt x={398} y={33} size={11.5}>CCLE WGS</Txt>
      <Txt x={548} y={33} size={11.5}>GDSC WES</Txt>
      <Txt x={318} y={105} size={12} rotate>Telomere content</Txt>
      <TwoLine x={399} y={190} />
      <TwoLine x={546} y={190} />
      <StatBox left={348} top={47} r="-0.17" p="1.10" exp="-2" n={216} />
      <StatBox left={489} top={47} r="-0.11" p="3.11" exp="-2" n={410} />
      <ScatterPanel pts={ccleDblPts} fx={ccleDblFitX} fy={ccleDblFitY} lo={ccleDblLo} hi={ccleDblHi}
        xDomain={[1.2, 3.03]} yDomain={[-2.12, 4.67]} xTicks={[1.5, 2.0, 2.5]} yTicks={[-2, -1, 0, 1, 2, 3, 4]} xDigits={1} f={frames.bL} />
      <ScatterPanel pts={gdscDblPts} fx={gdscDblFitX} fy={gdscDblFitY} lo={gdscDblLo} hi={gdscDblHi}
        xDomain={[1.224, 3.17]} yDomain={[-2.16, 4.1]} xTicks={[1.5, 2.0, 2.5]} yTicks={[-2, -1, 0, 1, 2, 3, 4]} xDigits={1} f={frames.bR} />

      {/* panel c */}
      <Txt x={336} y={254} size={13}>CCLE WGS</Txt>
      <Txt x={33} y={337} size={13} rotate>Telomere content</Txt>
      <StripPanel cats={ccleCats} counts={ccleN} vals={ccleVals} mean={ccleMean} lo={ccleLo} hi={ccleHi}
        yDomain={[-2.38, 4.77]} yTicks={[-2, 0, 2, 4]} f={frames.c} dotR={2.6} cap={4} labelDy={3} />

      {/* panel d */}
      <Txt x={337} y={515} size={13}>GDSC WES</Txt>
      <Txt x={33} y={604} size={13} rotate>Telomere content</Txt>
      <StripPanel cats={gdscCats} counts={gdscN} vals={gdscVals} mean={gdscMean} lo={gdscLo} hi={gdscHi}
        yDomain={[-2.47, 6.13]} yTicks={[-2, 0, 2, 4, 6]} f={frames.d} dotR={2.3} cap={3.3} labelDy={5} />
    </div>
  );
}
